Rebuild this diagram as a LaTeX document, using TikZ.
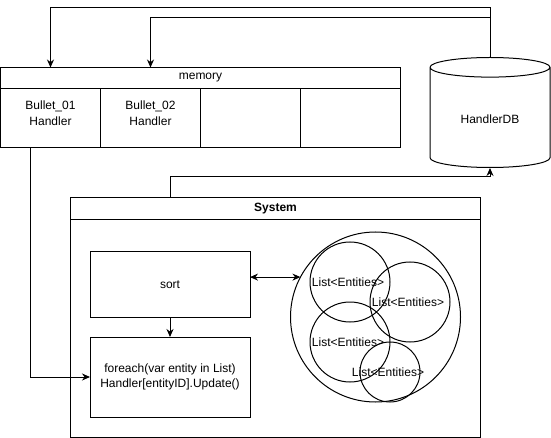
\documentclass[tikz,border=0pt]{standalone}
\usepackage{fontspec}
\setmainfont{Liberation Sans}
\usetikzlibrary{shapes.geometric, arrows.meta, positioning, calc}
\tikzset{
  box/.style={rectangle, draw, outer sep=0pt, inner sep=2pt, align=center,
    line width=1pt, font=\fontsize{12}{15}\selectfont},
  head/.style={box, minimum height=21pt},
  cell/.style={box, minimum width=100pt, minimum height=59pt},
  celltext/.style={anchor=north, align=center, inner sep=0pt, yshift=-12pt,
    font=\fontsize{12}{16}\selectfont},
  ring/.style={circle, draw, line width=1pt, inner sep=0pt, outer sep=0pt},
  entity/.style={inner sep=0pt, xshift=-2pt, font=\fontsize{12}{14}\selectfont},
  arrow/.style={-{Stealth[length=8pt, width=7pt]}, line width=1pt},
  both/.style={{Stealth[length=8pt, width=7pt]}-{Stealth[length=8pt, width=7pt]}, line width=1pt}
}

\begin{document}
\begin{tikzpicture}[x=1pt, y=-1pt]
  \useasboundingbox (0,0) rectangle (551,438);

  % Memory block
  \node[head, minimum width=400pt, anchor=north west] (memory) at (0.5,67.5) {memory};
  \node[cell, anchor=north west, label={[celltext]north:Bullet\_01\\Handler}] (cell1) at (memory.south west) {};
  \node[cell, right=0pt of cell1, label={[celltext]north:Bullet\_02\\Handler}] (cell2) {};
  \node[cell, right=0pt of cell2] (cell3) {};
  \node[cell, right=0pt of cell3] (cell4) {};

  % Handler database
  \node[cylinder, shape border rotate=90, draw, line width=1pt, aspect=0.3, anchor=north,
    minimum width=120pt, minimum height=110pt, font=\fontsize{12}{15}\selectfont] (db) at (490,57) {HandlerDB};

  % System
  \node[head, font=\bfseries\fontsize{12}{15}\selectfont, minimum width=410pt, minimum height=22.5pt,
    anchor=north west] (system) at (70.5,197.5) {System};
  \node[box, minimum width=410pt, minimum height=217pt, anchor=north west] (sysbody) at (system.south west) {};
  \node[box, minimum width=160pt, minimum height=65pt] (sort) at (170,284.5) {sort};
  \node[box, minimum width=160pt, minimum height=80pt, below=20pt of sort] (update)
    {foreach(var entity in List)\\Handler[entityID].Update()};

  % Entity lists
  \node[ring, minimum size=170pt] (pool) at (375.5,317) {};
  \node[ring, minimum size=80pt] (list1) at (350,282) {};
  \node[ring, minimum size=80pt] (list2) at (410,302) {};
  \node[ring, minimum size=80pt] (list3) at (350,342) {};
  \node[ring, minimum size=60pt] (list4) at (390,372) {};
  \foreach \i in {1,...,4}
    \node[entity] (name\i) at (list\i) {List<Entities>};

  % Connectors
  \draw[arrow] (db.north) -- ++(0,-49) -| (cell1.north |- memory.north);
  \draw[arrow] (db.north) -- ++(0,-39) -| (cell2.north |- memory.north);
  \draw[arrow] (sort.north |- system.north) -- ++(0,-21) -| (db.south);
  \draw[arrow] ($(cell1.south)+(-20,0)$) |- (update.west);
  \draw[arrow] (sort) -- (update);
  \draw[both] (sort.east |- pool.152.7) -- (pool.152.7);
\end{tikzpicture}
\end{document}
